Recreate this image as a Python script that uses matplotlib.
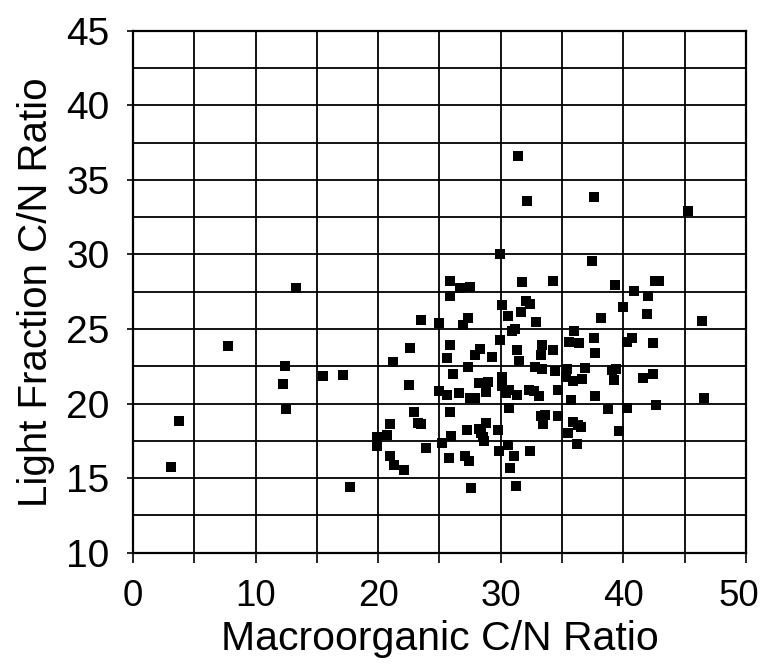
import matplotlib
matplotlib.use("Agg")
import matplotlib.pyplot as plt
from matplotlib.ticker import MultipleLocator
from matplotlib.transforms import ScaledTranslation

plt.rcParams["font.family"] = ["Liberation Sans", "DejaVu Sans"]

# Macroorganic C/N ratio (x) and light fraction C/N ratio (y)
macro_cn = [
    3.13, 3.75, 7.74, 12.42, 12.23, 12.45, 13.32, 15.46, 17.15, 17.72,
    23.47, 22.60, 21.17, 22.55, 22.93, 23.26, 23.53, 20.95, 20.70, 19.92,
    19.92, 20.95, 21.33, 22.14, 23.94,
    31.43, 32.14, 37.57, 45.23, 29.97, 37.41,
    25.89, 26.71, 27.52, 31.74, 34.23, 39.34, 40.83, 42.54, 42.87, 41.97,
    25.89, 30.07, 32.06, 32.41, 30.62, 31.68, 32.90, 27.30, 26.89, 24.94,
    39.93, 41.89, 38.17, 46.41, 36.00, 30.92, 31.19, 29.97, 25.89, 28.31,
    27.93, 25.59, 29.29, 31.30, 31.52, 33.37, 33.25, 34.23, 35.57, 36.35,
    37.63, 37.71, 40.26, 40.73, 42.44, 27.30, 26.14, 30.07, 32.80, 33.39,
    34.43, 35.40, 36.90, 35.32, 35.92, 36.63, 39.07, 39.40, 39.20, 41.60,
    42.44, 24.94, 25.59, 26.63, 27.52, 27.93, 28.20, 28.93, 28.80, 30.07,
    30.43, 30.70, 31.30, 32.27, 32.74, 33.15, 34.64, 35.70, 37.65, 38.71,
    40.29, 42.66, 46.54, 30.70, 25.89, 33.28, 33.61, 33.41, 34.64, 35.92,
    36.27, 36.54, 35.51, 36.19, 39.61, 28.80, 27.25, 28.20, 28.39, 28.58,
    28.66, 29.80, 25.95, 25.18, 30.56, 29.89, 31.05, 32.36, 30.73, 25.75,
    27.11, 27.44, 27.58, 31.25,
]
light_cn = [
    15.76, 18.86, 23.86, 22.52, 21.34, 19.64, 27.72, 21.85, 21.92, 14.39,
    25.62, 23.73, 22.79, 21.27, 19.44, 18.70, 18.66, 18.61, 17.92, 17.79,
    17.14, 16.47, 15.91, 15.56, 17.03,
    36.61, 33.61, 33.86, 32.92, 30.06, 29.53,
    28.19, 27.75, 27.79, 28.12, 28.24, 27.95, 27.55, 28.19, 28.19, 27.18,
    27.23, 26.63, 26.85, 26.69, 25.89, 26.11, 25.47, 25.76, 25.27, 25.38,
    26.45, 26.02, 25.71, 25.56, 24.89, 24.89, 25.00, 24.24, 23.90, 23.68,
    23.28, 23.03, 23.10, 23.59, 22.88, 23.95, 23.23, 23.59, 24.15, 24.04,
    24.40, 23.37, 24.10, 24.37, 24.06, 22.43, 21.99, 21.81, 22.43, 22.34,
    22.21, 22.34, 22.36, 21.78, 21.54, 21.62, 22.25, 22.34, 21.56, 21.74,
    21.96, 20.87, 20.60, 20.71, 20.35, 20.38, 21.38, 21.47, 20.75, 21.16,
    20.71, 20.93, 20.60, 20.93, 20.87, 20.49, 20.89, 20.26, 20.53, 19.66,
    19.71, 19.93, 20.35, 19.73, 19.46, 19.19, 19.26, 18.64, 19.17, 18.74,
    18.59, 18.44, 18.05, 17.32, 18.19, 18.70, 18.24, 18.32, 18.03, 17.77,
    17.47, 18.26, 17.85, 17.36, 17.20, 16.85, 16.49, 16.85, 15.66, 16.36,
    16.47, 16.13, 14.37, 14.46,
]

x_ticks = [0, 10, 20, 30, 40, 50]
y_ticks = [10, 15, 20, 25, 30, 35, 40, 45]

fig = plt.figure(figsize=(7.63, 6.64), dpi=100)
ax = fig.add_axes([0.1743, 0.1676, 0.8034, 0.7862])

ax.scatter(macro_cn, light_cn, marker="s", s=45, color="black",
           linewidths=0, zorder=3)

ax.set_xlim(0, 50)
ax.set_ylim(10, 45)
ax.set_xticks(x_ticks)
ax.set_yticks(y_ticks)
ax.xaxis.set_minor_locator(MultipleLocator(5))
ax.yaxis.set_minor_locator(MultipleLocator(2.5))

ax.grid(True, which="both", color="black", linewidth=1.3)
ax.set_axisbelow(True)
for sp in ax.spines.values():
    sp.set_linewidth(1.6)

ax.tick_params(axis="x", which="both", direction="out", length=7,
               width=1.2, labelsize=26.5, pad=12)
ax.tick_params(axis="y", which="major", direction="out", length=4,
               width=1.2, labelsize=28, pad=13)
ax.tick_params(axis="y", which="minor", length=0)

# the last x label sits a little inside the right edge, as in the original
last = ax.xaxis.get_major_ticks()[-1].label1
last.set_transform(last.get_transform()
                   + ScaledTranslation(-0.07, 0, fig.dpi_scale_trans))

ax.set_xlabel("Macroorganic C/N Ratio", fontsize=29.5, labelpad=4)
ax.set_ylabel("Light Fraction C/N Ratio", fontsize=29, labelpad=8)

fig.savefig("out.png", dpi=100)
